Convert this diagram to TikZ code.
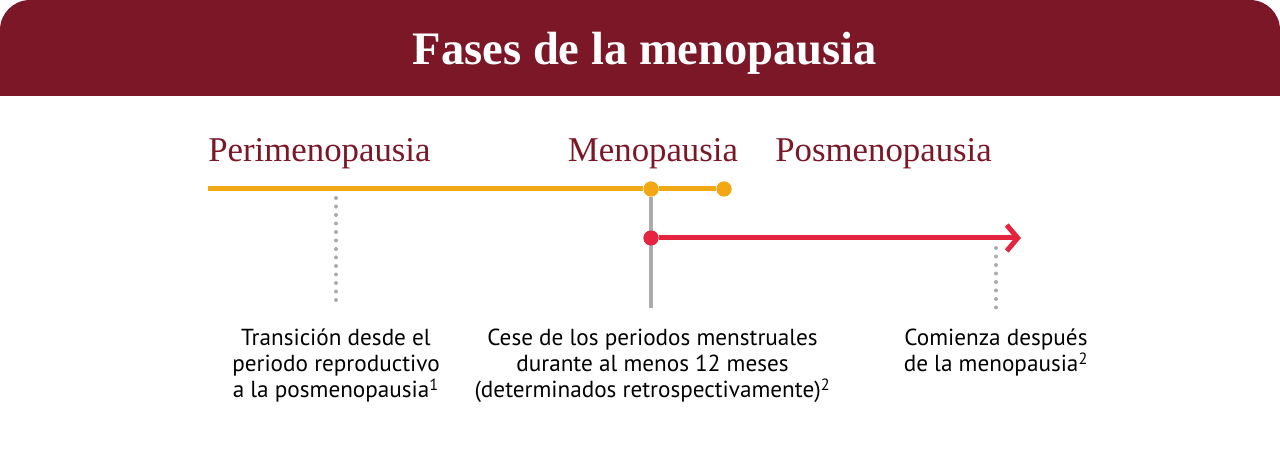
\documentclass[tikz,border=0pt]{standalone}
\usepackage{fontspec}
\setmainfont{Liberation Serif}
\setsansfont{PT Sans}
\usetikzlibrary{positioning, arrows.meta}

\definecolor{wine}{HTML}{7B1727}
\definecolor{amber}{HTML}{F2A812}
\definecolor{crimson}{HTML}{E5243F}
\definecolor{guide}{HTML}{ABABAB}

\begin{document}
\begin{tikzpicture}[
    title/.style={font=\bfseries\fontsize{26.5}{30}\selectfont, text=white},
    phase/.style={font=\fontsize{19.8}{23}\selectfont, text=wine, inner sep=0pt},
    desc/.style={font=\sffamily\fontsize{13.2}{14.9}\selectfont, align=center, inner sep=0pt, anchor=north},
    dot/.style={circle, fill=#1, minimum size=0.3cm, inner sep=0pt},
    yline/.style={draw=amber, line width=0.1cm},
    rline/.style={draw=crimson, line width=0.1cm, -{Straight Barb[length=0.22cm, width=0.52cm, line width=0.1cm]}},
    solidguide/.style={draw=guide, line width=0.08cm},
    dotguide/.style={draw=guide, line width=0.08cm, line cap=round, dash pattern=on 0pt off 0.17cm}
]

    \useasboundingbox (0,0) rectangle (25.6,9.04);

    % ================= HEADER BANNER =================
    \fill[wine] (0,7.12) [rounded corners=0.6cm] -- (0,9.04) -- (25.6,9.04) [sharp corners] -- (25.6,7.12) -- cycle;
    \node[title] (Title) at (12.9, 7.97) {Fases de la menopausia};

    % ================= PHASE LABELS =================
    \node[phase, anchor=west] (Peri) at (4.16, 5.97) {Perimenopausia};
    \node[phase] (Meno) at (13.06, 5.97) {Menopausia};
    \node[phase, anchor=west] (Posm) at (15.5, 5.97) {Posmenopausia};

    % ================= TIMELINE =================
    \coordinate (PeriStart) at (4.16, 5.26);
    \node[dot=amber] (MenoDot) at (13.02, 5.26) {};
    \node[dot=amber] (PeriEnd) at (14.48, 5.26) {};
    \node[dot=crimson] (PosmDot) at (13.02, 4.28) {};
    \coordinate (PosmEnd) at (20.42, 4.28);

    \coordinate (MenoFoot) at (13.02, 2.88);
    \coordinate (PeriTop) at (6.72, 5.08);
    \coordinate (PeriFoot) at (6.72, 2.88);
    \coordinate (PosmTop) at (19.92, 4.08);
    \coordinate (PosmFoot) at (19.92, 2.88);

    % guides
    \draw[solidguide] (MenoDot) -- (MenoFoot);
    \draw[dotguide] (PeriTop) -- (PeriFoot);
    \draw[dotguide] (PosmTop) -- (PosmFoot);

    % phase bars
    \draw[yline] (PeriStart) -- (MenoDot) -- (PeriEnd);
    \draw[rline] (PosmDot) -- (PosmEnd);
    \node[dot=amber] at (MenoDot) {};
    \node[dot=amber] at (PeriEnd) {};
    \node[dot=crimson] at (PosmDot) {};

    % ================= DESCRIPTIONS =================
    \node[desc] (PeriText) at (6.72, 2.47) {Transición desde el\\periodo reproductivo\\a la posmenopausia\textsuperscript{1}};
    \node[desc] (MenoText) at (13.05, 2.47) {Cese de los periodos menstruales\\durante al menos 12 meses\\(determinados retrospectivamente)\textsuperscript{2}};
    \node[desc] (PosmText) at (19.92, 2.47) {Comienza después\\de la menopausia\textsuperscript{2}};

\end{tikzpicture}
\end{document}
